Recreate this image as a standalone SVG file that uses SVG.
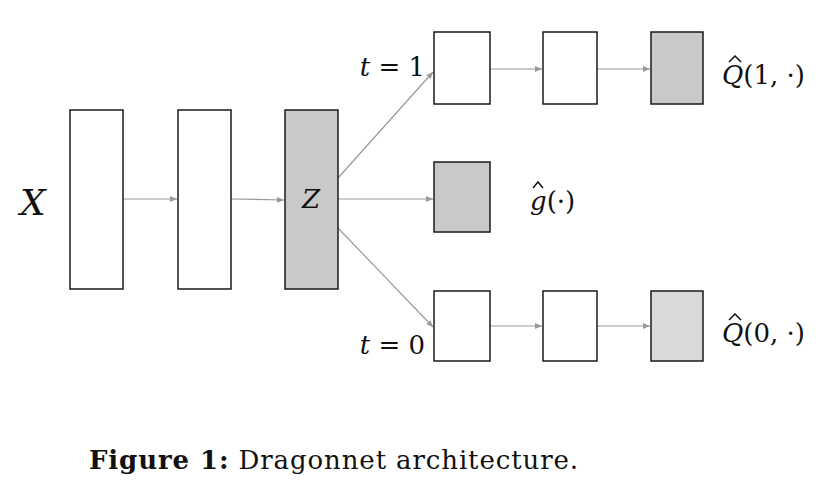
<svg xmlns="http://www.w3.org/2000/svg" width="831" height="486" viewBox="0 0 831 486">
<style>
.b{stroke:#1a1a1a;stroke-width:1.5;fill:#fff}
.g{fill:#c9c9c9}
.l{fill:#d9d9d9}
.c{stroke:#999;stroke-width:1.2;fill:none;marker-end:url(#a)}
.h{stroke:#111;stroke-width:1.5;fill:none}
.m{font-family:"DejaVu Serif","Liberation Serif",serif;fill:#111}
.i{font-style:italic}
</style>
<defs><marker id="a" markerWidth="8" markerHeight="6" refX="7" refY="3" orient="auto" markerUnits="userSpaceOnUse"><path d="M0,0 L7,3 L0,6 z" fill="#999"/></marker></defs>
<rect width="831" height="486" fill="#fff"/>
<g id="connectors">
<line class="c" x1="123" y1="199" x2="177" y2="199"/>
<line class="c" x1="231" y1="199" x2="284" y2="200"/>
<line class="c" x1="338" y1="178" x2="433" y2="72"/>
<line class="c" x1="338" y1="199" x2="433" y2="199"/>
<line class="c" x1="338" y1="228" x2="433" y2="327"/>
<line class="c" x1="490" y1="69" x2="542" y2="69"/>
<line class="c" x1="597" y1="69" x2="650" y2="69"/>
<line class="c" x1="490" y1="326" x2="542" y2="326"/>
<line class="c" x1="597" y1="326" x2="650" y2="326"/>
</g>
<g id="input"><text class="m i" x="20" y="215" font-size="36">X</text></g>
<g id="h1"><rect class="b" x="70" y="110" width="53" height="179"/></g>
<g id="h2"><rect class="b" x="178" y="110" width="53" height="179"/></g>
<g id="z"><rect class="b g" x="285" y="110" width="53" height="179"/><text class="m i" x="311" y="208" font-size="26" text-anchor="middle">Z</text></g>
<g id="t1"><rect class="b" x="434" y="32" width="56" height="72"/><text class="m" x="425" y="76" font-size="26" text-anchor="end"><tspan font-style="italic">t</tspan> = 1</text></g>
<g id="q1a"><rect class="b" x="543" y="32" width="54" height="72"/></g>
<g id="q1"><rect class="b g" x="651" y="32" width="52" height="72"/><text class="m" x="722" y="84" font-size="26"><tspan font-style="italic">Q</tspan>(1, ·)</text><polyline class="h" points="729,62 735,56 741,62"/></g>
<g id="gnode"><rect class="b g" x="434" y="162" width="56" height="70"/><text class="m" x="530" y="210" font-size="26"><tspan font-style="italic">g</tspan>(·)</text><polyline class="h" points="533,188 538,182 543,188"/></g>
<g id="t0"><rect class="b" x="434" y="291" width="56" height="70"/><text class="m" x="425" y="354" font-size="26" text-anchor="end"><tspan font-style="italic">t</tspan> = 0</text></g>
<g id="q0a"><rect class="b" x="543" y="291" width="54" height="70"/></g>
<g id="q0"><rect class="b l" x="651" y="291" width="52" height="70"/><text class="m" x="722" y="342" font-size="26"><tspan font-style="italic">Q</tspan>(0, ·)</text><polyline class="h" points="729,320 735,314 741,320"/></g>
<g id="caption"><text x="89" y="469" font-family="'DejaVu Serif','Liberation Serif',serif" font-size="26" fill="#111" textLength="489" lengthAdjust="spacing"><tspan font-weight="bold">Figure 1:</tspan> Dragonnet architecture.</text></g>
</svg>
